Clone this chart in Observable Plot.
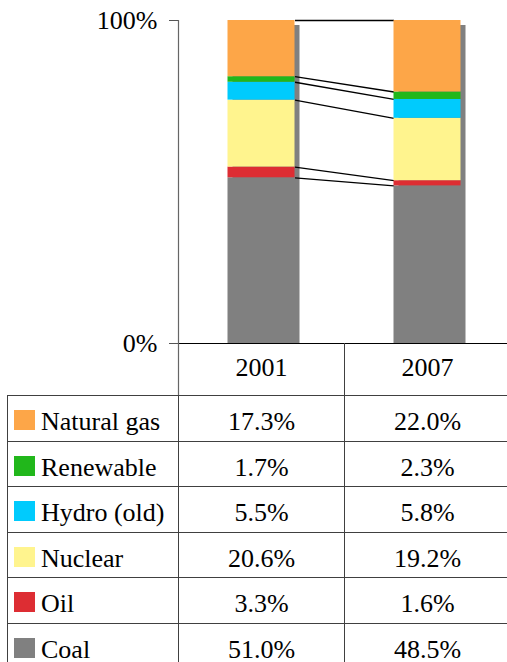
<!DOCTYPE html>
<html><head><meta charset="utf-8">
<script src="https://cdn.jsdelivr.net/npm/d3@7"></script>
<script src="https://cdn.jsdelivr.net/npm/@observablehq/plot@0.6"></script>
<style>
html,body{margin:0;padding:0;background:#fff;}
body{width:507px;height:662px;overflow:hidden;font-family:"Liberation Serif",LiberationSerif,Tinos,"Times New Roman",Times,"DejaVu Serif",serif;color:#000;}
#chart svg{display:block;}
table{border-collapse:collapse;margin-left:7px;table-layout:fixed;width:503px;font-size:26px;}
td{border:1px solid #404040;height:31.5px;padding:13px 0 0 0;line-height:26px;vertical-align:top;text-align:center;white-space:nowrap;}
td.name{text-align:left;padding-left:6px;}
.sw{display:inline-block;width:21px;height:20px;margin-right:6px;}
</style></head><body><div id="chart"></div><script>
// ---- data ----
const years = ["2001", "2007"];
const sources = ["Natural gas", "Renewable", "Hydro (old)", "Nuclear", "Oil", "Coal"]; // table order (top of stack first)
const colors = ["#fda648", "#21b71b", "#00cbfd", "#fff48e", "#dd2d33", "#808080"];
const share2001 = [17.3, 1.7, 5.5, 20.6, 3.3, 51.0];
const share2007 = [22.0, 2.3, 5.8, 19.2, 1.6, 48.5];

// ---- derived stacks (bottom-up: Coal first), normalized to 100% ----
const shares = [share2001, share2007];
const segs = [];
shares.forEach((vals, i) => {
  const total = d3.sum(vals);
  let acc = 0;
  for (let k = sources.length - 1; k >= 0; --k) {
    const y1 = acc / total; acc += vals[k]; const y2 = acc / total;
    segs.push({year: i, source: sources[k], y1, y2});
  }
});
const links = sources.map(s => {
  const a = segs.find(d => d.year === 0 && d.source === s);
  const b = segs.find(d => d.year === 1 && d.source === s);
  return {source: s, y1: a.y2, y2: b.y2};
});

const FONT = "'Liberation Serif', LiberationSerif, Tinos, 'Times New Roman', Times, 'DejaVu Serif', serif";
const hw = 0.2018; // half bar width in category units
const plot = Plot.plot({
  width: 507, height: 395,
  marginLeft: 178, marginRight: 0, marginTop: 20, marginBottom: 52,
  style: {fontFamily: FONT, fontSize: "26px", color: "#000", background: "#fff", overflow: "visible"},
  x: {type: "linear", domain: [-0.5, 1.5], range: [178, 510]},
  y: {domain: [0, 1]},
  color: {domain: sources, range: colors},
  marks: [
    Plot.rectY(years, {x1: (d, i) => i - hw, x2: (d, i) => i + hw, y1: 0, y2: 1, fill: "#808080", dx: 5, insetTop: 5}),
    Plot.link(links, {x1: hw, x2: 1 - hw, y1: "y1", y2: "y2", stroke: "#000", strokeWidth: 1.3}),
    Plot.rectY(segs, {x1: d => d.year - hw, x2: d => d.year + hw, y1: "y1", y2: "y2", fill: "source"}),
    Plot.ruleY([0], {stroke: "#000", strokeWidth: 1.2}),
    Plot.ruleX([-0.5], {stroke: "#666", strokeWidth: 1.2, insetBottom: -52}),
    Plot.ruleX([0.5], {y1: 0, y2: 0, stroke: "#404040", insetBottom: -52}),
    Plot.axisY({ticks: [0, 1], tickFormat: d3.format(".0%"), tickSize: 9, tickPadding: 12, stroke: "#555", fontFamily: FONT}),
    Plot.axisX({ticks: [0, 1], tickFormat: i => years[i], tickSize: 0, tickPadding: 14, fontFamily: FONT})
  ]
});
document.getElementById("chart").appendChild(plot);

// ---- data table with legend swatches ----
const color = plot.scale("color");
const table = document.createElement("table");
const cg = document.createElement("colgroup");
[171, 166, 166].forEach(w => { const c = document.createElement("col"); c.style.width = w + "px"; cg.appendChild(c); });
table.appendChild(cg);
sources.forEach((s, k) => {
  const tr = document.createElement("tr");
  const tdn = document.createElement("td");
  tdn.className = "name";
  const sw = document.createElement("span");
  sw.className = "sw";
  sw.style.background = color.apply(s);
  tdn.appendChild(sw);
  tdn.appendChild(document.createTextNode(s));
  tr.appendChild(tdn);
  shares.forEach(vals => {
    const td = document.createElement("td");
    td.textContent = vals[k].toFixed(1) + "%";
    tr.appendChild(td);
  });
  table.appendChild(tr);
});
document.getElementById("chart").appendChild(table);
</script></body></html>
